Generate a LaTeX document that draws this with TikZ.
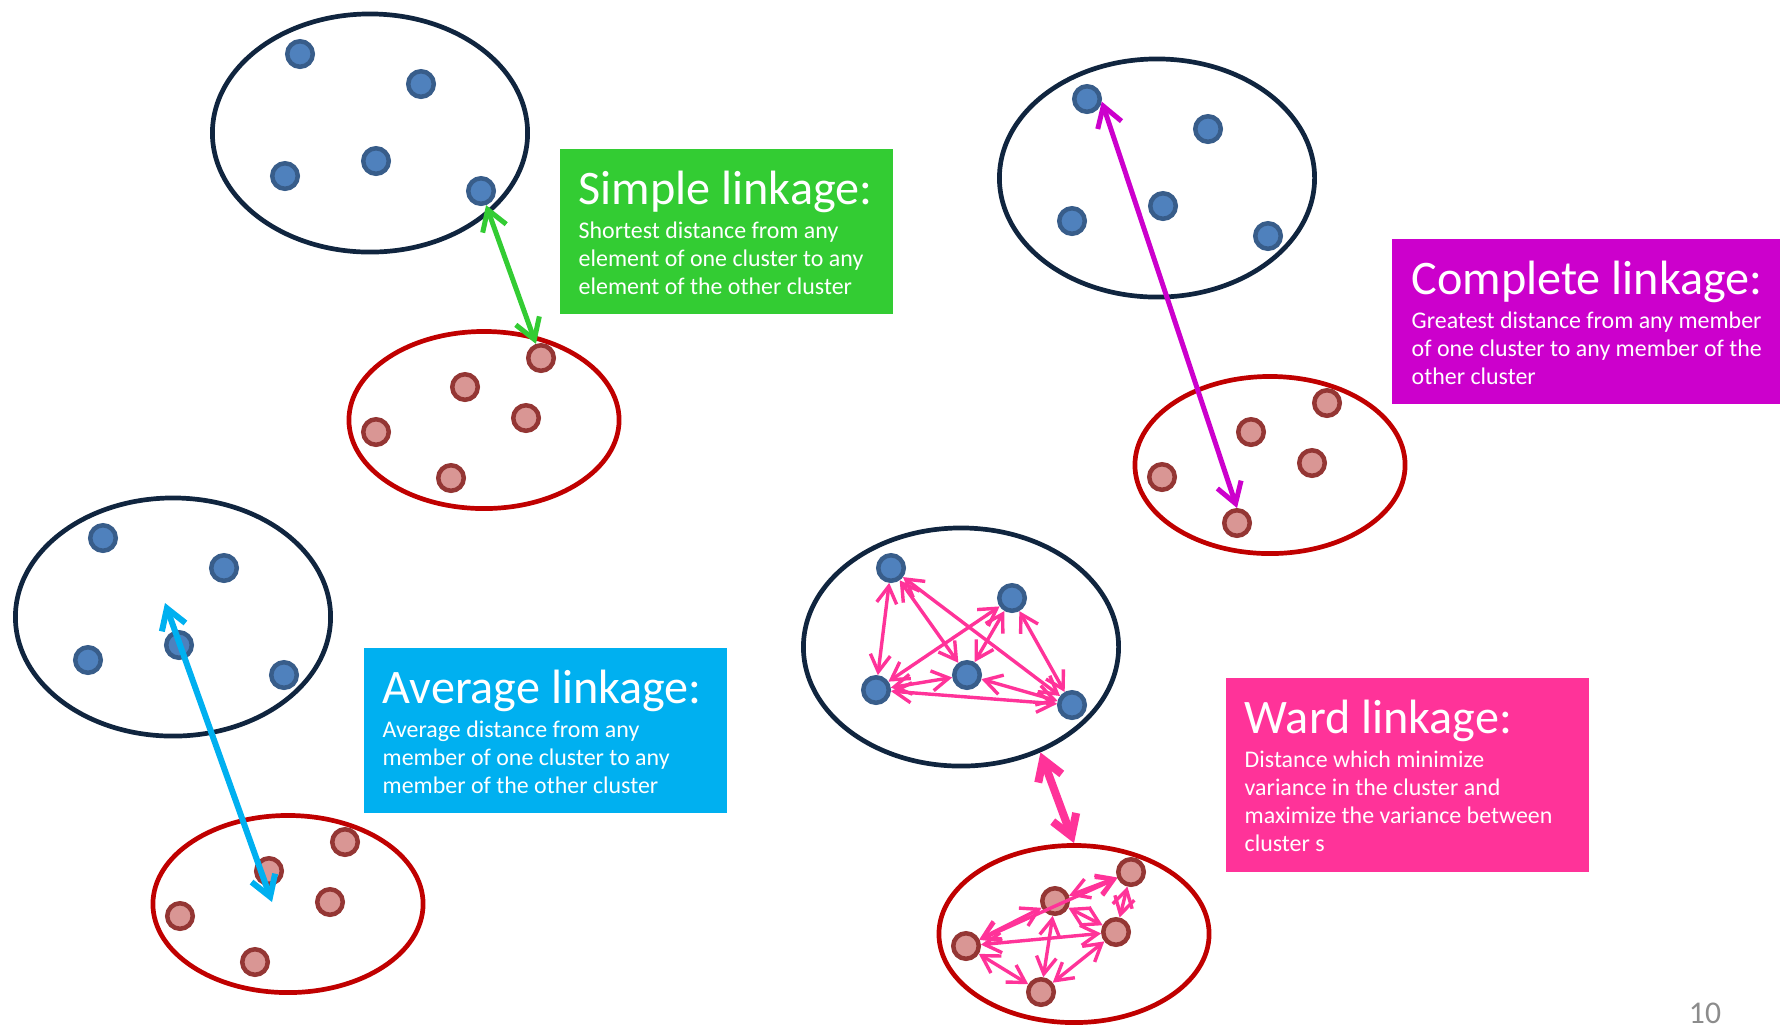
\documentclass[tikz,border=0pt]{standalone}
\usepackage{fontspec}
\setmainfont{Carlito}
\usetikzlibrary{arrows.meta,shapes.geometric}

\definecolor{clusternavy}{HTML}{10253F}
\definecolor{clusterred}{HTML}{C00000}
\definecolor{dotblue}{HTML}{4F81BD}
\definecolor{dotblueedge}{HTML}{385D8A}
\definecolor{dotred}{HTML}{D99694}
\definecolor{dotrededge}{HTML}{943634}
\definecolor{simplegreen}{HTML}{33CC33}
\definecolor{completemagenta}{HTML}{CC00CC}
\definecolor{averagecyan}{HTML}{00B0F0}
\definecolor{wardpink}{HTML}{FF3399}
\definecolor{pagegray}{HTML}{8C8C8C}

\tikzset{
  bluecluster/.style={ellipse, draw=clusternavy, line width=0.047cm,
    minimum width=3.15cm, minimum height=2.38cm, inner sep=0pt},
  redcluster/.style={ellipse, draw=clusterred, line width=0.047cm,
    minimum width=2.70cm, minimum height=1.77cm, inner sep=0pt},
  bdot/.style={circle, fill=dotblue, draw=dotblueedge, line width=0.045cm,
    minimum size=0.255cm, inner sep=0pt},
  rdot/.style={circle, fill=dotred, draw=dotrededge, line width=0.045cm,
    minimum size=0.255cm, inner sep=0pt},
  linkarrow/.style={<->, >={Straight Barb[length=0.2cm,width=0.25cm]},
    line width=0.05cm},
  wardarrow/.style={<->, >={Straight Barb[length=0.17cm,width=0.2cm]},
    draw=wardpink, line width=0.034cm},
  linkbox/.style={rectangle, anchor=north west, inner sep=0pt,
    minimum height=1.65cm},
  boxtext/.style={text=white, font=\fontsize{6.8}{8}\selectfont,
    align=left, inner sep=0pt, anchor=north west}
}
\newcommand{\linktitle}[1]{{\fontsize{13.7}{16}\selectfont #1}}

% posizioni dei punti rispetto al centro del cluster
\def\bluedots{(-70,-79),(51,-49),(-85,43),(6,28),(111,58)}
\def\reddots{(57,-62),(-19,-33),(42,-2),(-108,12),(-33,58)}

\begin{document}
\begin{tikzpicture}[x=0.01cm, y=-0.01cm]
\useasboundingbox (0,0) rectangle (1780,1026);

% Simple linkage
\begin{scope}[shift={(370,133)}]
  \node[bluecluster] (simpleA) at (0,0) {};
  \foreach \p [count=\i] in \bluedots \node[bdot] (sa\i) at \p {};
\end{scope}
\begin{scope}[shift={(484,420)}]
  \node[redcluster] (simpleB) at (0,0) {};
  \foreach \p [count=\i] in \reddots \node[rdot] (sb\i) at \p {};
\end{scope}
\draw[linkarrow, simplegreen] (sa5) -- (sb1);

% Complete linkage
\begin{scope}[shift={(1157,178)}]
  \node[bluecluster] (completeA) at (0,0) {};
  \foreach \p [count=\i] in \bluedots \node[bdot] (ca\i) at \p {};
\end{scope}
\begin{scope}[shift={(1270,465)}]
  \node[redcluster] (completeB) at (0,0) {};
  \foreach \p [count=\i] in \reddots \node[rdot] (cb\i) at \p {};
\end{scope}
\draw[linkarrow, completemagenta] (ca1.-10) -- (cb5.north);

% Average linkage
\begin{scope}[shift={(173,617)}]
  \node[bluecluster] (averageA) at (0,0) {};
  \foreach \p [count=\i] in \bluedots \node[bdot] (aa\i) at \p {};
\end{scope}
\begin{scope}[shift={(288,904)}]
  \node[redcluster] (averageB) at (0,0) {};
  \foreach \p [count=\i] in \reddots \node[rdot] (ab\i) at \p {};
\end{scope}
\coordinate (avgA) at (165,603);
\coordinate (avgB) at (272,902);
\draw[linkarrow, averagecyan, line width=0.06cm] (avgA) -- (avgB);

% Ward linkage
\begin{scope}[shift={(961,647)}]
  \node[bluecluster] (wardA) at (0,0) {};
  \foreach \p [count=\i] in \bluedots \node[bdot] (wa\i) at \p {};
\end{scope}
\begin{scope}[shift={(1074,934)}]
  \node[redcluster] (wardB) at (0,0) {};
  \foreach \p [count=\i] in \reddots \node[rdot] (wb\i) at \p {};
\end{scope}
\foreach \i/\j in {1/3,1/4,1/5,2/3,2/4,2/5,3/4,3/5,4/5}
  \draw[wardarrow] (wa\i) -- (wa\j);
\foreach \i/\j in {1/2,1/3,1/4,2/3,2/4,2/5,3/4,3/5,4/5}
  \draw[wardarrow] (wb\i) -- (wb\j);
\draw[linkarrow, wardpink, line width=0.08cm] (wardA.-53) -- (wardB.north);

% Riquadri
\node[linkbox, fill=simplegreen, minimum width=3.33cm] (simple) at (559,148) {};
\node[boxtext] (simpletext) at (578,170)
  {\linktitle{Simple linkage:}\\[1.7pt]
   Shortest distance from any\\
   element of one cluster to any\\
   element of the other cluster};

\node[linkbox, fill=completemagenta, minimum width=3.89cm] (complete) at (1391,238) {};
\node[boxtext] (completetext) at (1411,260)
  {\linktitle{Complete linkage:}\\[1.7pt]
   Greatest distance from any member\\
   of one cluster to any member of the\\
   other cluster};

\node[linkbox, fill=averagecyan, minimum width=3.63cm] (average) at (363,647) {};
\node[boxtext] (averagetext) at (382,669)
  {\linktitle{Average linkage:}\\[1.7pt]
   Average distance from any\\
   member of one cluster to any\\
   member of the other cluster};

\node[linkbox, fill=wardpink, minimum width=3.63cm, minimum height=1.94cm] (ward) at (1225,677) {};
\node[boxtext] (wardtext) at (1244,699)
  {\linktitle{Ward linkage:}\\[1.7pt]
   Distance which minimize\\
   variance in the cluster and\\
   maximize the variance between\\
   cluster s};

\node[text=pagegray, font=\fontsize{9}{11}\selectfont] (pagenum) at (1705,1013) {10};
\end{tikzpicture}
\end{document}
